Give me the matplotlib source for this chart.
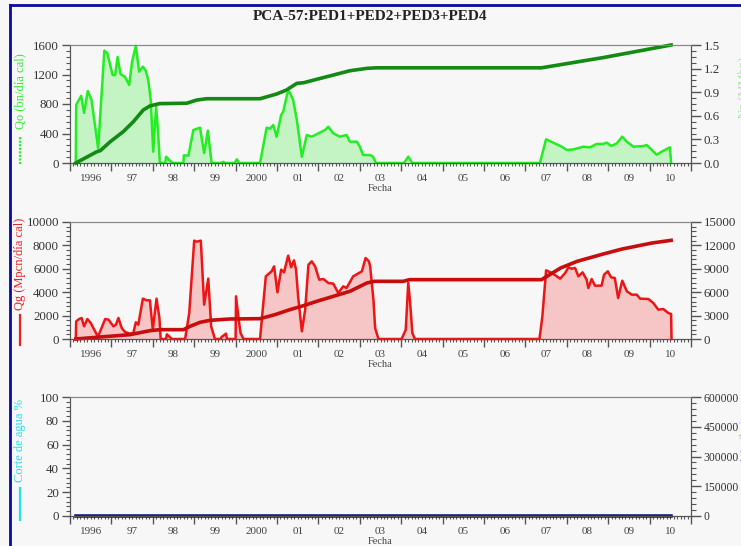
import numpy as np
import matplotlib
matplotlib.use('Agg')
import matplotlib.pyplot as plt
from matplotlib.lines import Line2D
from matplotlib.ticker import MultipleLocator

plt.rcParams['font.family'] = ['Liberation Serif', 'DejaVu Serif']

# fechas en años decimales (etiqueta de cada año centrada en su mitad)
year_labels = ['1996', '97', '98', '99', '2000', '01', '02', '03', '04',
               '05', '06', '07', '08', '09', '10']
year_pos = [1996.5 + i for i in range(len(year_labels))]

# tasa de petróleo Qo (bn/día cal)
t_qo = [1996.14, 1996.15, 1996.27, 1996.34, 1996.43, 1996.52, 1996.68, 1996.83,
        1996.90, 1997.03, 1997.09, 1997.15, 1997.22, 1997.33, 1997.43, 1997.50,
        1997.59, 1997.67, 1997.76, 1997.83, 1997.89, 1997.95, 1998.01, 1998.08,
        1998.13, 1998.17, 1998.30, 1998.32, 1998.40, 1998.48, 1998.74, 1998.75,
        1998.86, 1998.98, 1999.14, 1999.24, 1999.33, 1999.42, 1999.65, 1999.70,
        1999.75, 1999.98, 2000.03, 2000.08, 2000.59, 2000.75, 2000.83, 2000.91,
        2000.99, 2001.10, 2001.15, 2001.25, 2001.30, 2001.39, 2001.48, 2001.60,
        2001.72, 2001.84, 2002.00, 2002.16, 2002.24, 2002.36, 2002.52, 2002.68,
        2002.76, 2002.93, 2003.00, 2003.08, 2003.25, 2003.32, 2003.39, 2004.07,
        2004.17, 2004.27, 2007.35, 2007.50, 2007.67, 2007.88, 2008.00, 2008.16,
        2008.40, 2008.56, 2008.72, 2008.88, 2008.96, 2009.08, 2009.21, 2009.34,
        2009.45, 2009.61, 2009.85, 2009.93, 2010.17, 2010.29, 2010.49, 2010.52]
qo = [0, 790, 910, 680, 976, 855, 200, 1523,
      1490, 1193, 1193, 1437, 1206, 1166, 1058, 1374,
      1590, 1238, 1306, 1252, 1126, 855, 153, 763,
      400, 0, 0, 85, 40, 0, 0, 104,
      100, 447, 479, 135, 438, 0, 0, 15,
      0, 0, 50, 0, 0, 479, 465, 515,
      357, 651, 696, 945, 967, 855, 583, 85,
      380, 357, 402, 447, 492, 402, 357, 380,
      289, 289, 221, 108, 108, 85, 0, 0,
      85, 0, 0, 321, 276, 221, 176, 185,
      221, 212, 258, 258, 276, 231, 267, 357,
      289, 221, 230, 244, 113, 153, 212, 0]

# petróleo acumulado Np (MMbn)
t_np = [1996.14, 1996.65, 1996.73, 1996.97, 1997.29, 1997.53, 1997.77, 1997.93,
        1998.09, 1998.17, 1998.82, 1999.06, 1999.30, 2000.59, 2000.99, 2001.23,
        2001.48, 2001.64, 2001.96, 2002.36, 2002.76, 2003.17, 2003.39, 2007.39,
        2008.88, 2010.52]
np_cum = [0.0, 0.144, 0.156, 0.27, 0.40, 0.525, 0.674, 0.725,
          0.746, 0.755, 0.76, 0.80, 0.817, 0.817, 0.877, 0.928,
          1.013, 1.02, 1.064, 1.118, 1.173, 1.203, 1.21, 1.21,
          1.34, 1.50]

# tasa de gas Qg (Mpcn/día cal)
t_qg = [1996.14, 1996.15, 1996.22, 1996.28, 1996.34, 1996.42, 1996.50, 1996.65,
        1996.68, 1996.85, 1996.93, 1997.05, 1997.11, 1997.17, 1997.25, 1997.33,
        1997.45, 1997.53, 1997.59, 1997.65, 1997.76, 1997.85, 1997.93, 1998.00,
        1998.09, 1998.16, 1998.19, 1998.32, 1998.34, 1998.46, 1998.78, 1998.88,
        1999.00, 1999.06, 1999.16, 1999.24, 1999.34, 1999.41, 1999.50, 1999.64,
        1999.66, 1999.77, 1999.79, 2000.00, 2000.01, 2000.07, 2000.12, 2000.19,
        2000.59, 2000.73, 2000.87, 2000.93, 2001.01, 2001.10, 2001.17, 2001.27,
        2001.34, 2001.41, 2001.46, 2001.51, 2001.60, 2001.68, 2001.76, 2001.84,
        2001.92, 2002.02, 2002.12, 2002.24, 2002.36, 2002.48, 2002.60, 2002.68,
        2002.84, 2003.05, 2003.14, 2003.22, 2003.25, 2003.33, 2003.37, 2003.45,
        2004.01, 2004.11, 2004.17, 2004.21, 2004.27, 2004.33, 2007.34, 2007.41,
        2007.50, 2007.64, 2007.76, 2007.84, 2007.96, 2008.04, 2008.12, 2008.20,
        2008.28, 2008.38, 2008.48, 2008.52, 2008.60, 2008.68, 2008.84, 2008.90,
        2008.99, 2009.07, 2009.16, 2009.24, 2009.34, 2009.45, 2009.57, 2009.69,
        2009.77, 2009.97, 2010.09, 2010.21, 2010.33, 2010.45, 2010.52, 2010.53]
qg = [0, 1510, 1709, 1795, 1083, 1709, 1368, 370,
      228, 1709, 1652, 1083, 1225, 1795, 940, 598,
      456, 513, 1425, 1225, 3447, 3305, 3305, 798,
      3447, 1795, 0, 0, 400, 0, 0, 2222,
      8405, 8319, 8405, 2935, 5157, 1083, 0, 0,
      170, 456, 0, 0, 3647, 1795, 513, 0,
      0, 5356, 5783, 6211, 3989, 5926, 5698, 7123,
      6125, 6724, 5926, 3647, 655, 2507, 6353, 6638,
      6211, 5071, 5128, 4786, 4729, 3932, 4501, 4359,
      5356, 5783, 6923, 6638, 6211, 3362, 940, 0,
      0, 798, 4786, 3362, 513, 0, 0, 1937,
      5869, 5641, 5356, 5157, 5641, 6125, 6011, 6068,
      5356, 5698, 5071, 4359, 5128, 4558, 4558, 5499,
      5783, 5271, 5214, 3504, 4986, 4074, 3789, 3789,
      3447, 3419, 3077, 2507, 2564, 2222, 2137, 0]

# gas acumulado Gp
t_gp = [1996.14, 1996.73, 1997.45, 1997.93, 1998.17, 1998.74, 1998.90, 1999.14,
        1999.38, 1999.86, 2000.59, 2000.95, 2001.31, 2001.64, 2001.96, 2002.36,
        2002.76, 2003.17, 2003.35, 2004.05, 2004.20, 2007.39, 2007.85, 2008.25,
        2008.88, 2009.34, 2010.06, 2010.52]
gp = [0, 256, 556, 1068, 1197, 1197, 1624, 2137,
      2393, 2564, 2607, 3120, 3761, 4274, 4829, 5470,
      6112, 7180, 7394, 7394, 7608, 7608, 9104, 9958,
      10899, 11540, 12309, 12651]

# corte de agua (%)
t_wc = [1996.14, 2010.52]
wcut = [0, 0]

bg = '#f7f7f7'
fig = plt.figure(figsize=(7.41, 5.46), dpi=100, facecolor=bg)

W, H = 741., 546.
def box(x0, x1, ytop, ybot):
    return [x0 / W, 1 - ybot / H, (x1 - x0) / W, (ybot - ytop) / H]

panels = [box(70, 691, 45, 163), box(70, 691, 222, 339), box(70, 691, 397, 516)]


def style_axes(ax, ax2, rsize=9.3):
    ax.set_facecolor(bg)
    ax.set_xlim(1996, 2011)
    ax.xaxis.set_major_locator(MultipleLocator(1))
    ax.xaxis.set_minor_locator(MultipleLocator(1 / 12.))
    ax.tick_params(axis='x', which='major', length=6, width=1, color='#555555',
                   labelbottom=False)
    ax.tick_params(axis='x', which='minor', length=2.5, width=0.8, color='#555555')
    sec = ax.secondary_xaxis('bottom')
    sec.set_xticks(year_pos)
    sec.set_xticklabels(year_labels)
    sec.tick_params(length=0, pad=8, labelsize=8, labelcolor='#444444')
    sec.spines['bottom'].set_visible(False)
    ax.tick_params(axis='y', which='major', length=6, width=1, color='#555555',
                   labelsize=9.3, labelcolor='#333333', pad=2)
    ax.tick_params(axis='y', which='minor', length=3, width=0.8, color='#555555')
    ax2.tick_params(axis='y', which='major', length=7, width=1, color='#555555',
                    labelsize=rsize, labelcolor='#333333', pad=2)
    ax2.tick_params(axis='y', which='minor', length=3.5, width=0.8, color='#555555')
    for a in (ax, ax2):
        a.spines['top'].set_color('#888888')
        a.spines['left'].set_color('#555555')
        a.spines['right'].set_color('#555555')
        a.spines['bottom'].set_color('#555555')
    ax.set_xlabel('Fecha', fontsize=7.5, color='#444444', labelpad=9)


# panel de petróleo
ax = fig.add_axes(panels[0])
ax2 = ax.twinx()
ax.fill_between(t_qo, qo, 0, color='#c4f4c4', lw=0)
ax.plot(t_qo, qo, color='#22ee22', lw=1.8, clip_on=False)
ax2.plot(t_np, np_cum, color='#138a13', lw=2.6, clip_on=False)
ax.set_ylim(0, 1600)
ax.set_yticks([0, 400, 800, 1200, 1600])
ax.yaxis.set_minor_locator(MultipleLocator(80))
ax2.set_ylim(0, 1.5)
ax2.set_yticks([0.0, 0.3, 0.6, 0.9, 1.2, 1.5])
ax2.set_yticklabels(['0.0', '0.3', '0.6', '0.9', '1.2', '1.5'])
ax2.yaxis.set_minor_locator(MultipleLocator(0.075))
style_axes(ax, ax2)

# panel de gas
bx = fig.add_axes(panels[1])
bx2 = bx.twinx()
bx.fill_between(t_qg, qg, 0, color='#f6c6c6', lw=0)
bx.plot(t_qg, qg, color='#ee1515', lw=1.8, clip_on=False)
bx2.plot(t_gp, gp, color='#c80d0d', lw=2.6, clip_on=False)
bx.set_ylim(0, 10000)
bx.set_yticks([0, 2000, 4000, 6000, 8000, 10000])
bx.yaxis.set_minor_locator(MultipleLocator(400))
bx2.set_ylim(0, 15000)
bx2.set_yticks([0, 3000, 6000, 9000, 12000, 15000])
bx2.yaxis.set_minor_locator(MultipleLocator(600))
style_axes(bx, bx2)

# panel de agua
cx = fig.add_axes(panels[2])
cx2 = cx.twinx()
cx.plot(t_wc, wcut, color='#1a1a80', lw=2.6, clip_on=False)
cx.set_ylim(0, 100)
cx.set_yticks([0, 20, 40, 60, 80, 100])
cx.yaxis.set_minor_locator(MultipleLocator(4))
cx2.set_ylim(0, 600000)
cx2.set_yticks([0, 150000, 300000, 450000, 600000])
cx2.yaxis.set_minor_locator(MultipleLocator(30000))
style_axes(cx, cx2, rsize=8.4)

# rótulos verticales con muestra de línea
def side_label(text, color, ymid, y0, y1, ls, bold=False):
    fig.text(20 / W, 1 - ymid / H, text, rotation=90, ha='center', va='center',
             color=color, fontsize=9, fontweight='bold' if bold else 'normal')
    fig.add_artist(Line2D([20 / W, 20 / W], [1 - y0 / H, 1 - y1 / H],
                          color=color, lw=1.6, ls=ls))

side_label('Qo (bn/día cal)', '#33ee33', 91, 137, 165, (0, (1, 0.6)))
side_label('Qg (Mpcn/día cal)', '#ee2020', 264, 315, 345, '-')
side_label('Corte de agua %', '#22e0ee', 441, 488, 520, '-')

# rótulos del eje derecho (quedan en el borde)
fig.text(738.5 / W, 1 - 88 / H, 'Np (MMbn)', rotation=90, ha='left', va='center',
         color='#a8e8a8', fontsize=9)
fig.text(739.5 / W, 1 - 440 / H, 'Wp (bn)', rotation=90, ha='left', va='center',
         color='#b0b0ee', fontsize=9)

fig.text(0.5, 1 - 17 / H, 'PCA-57:PED1+PED2+PED3+PED4', ha='center', va='center',
         fontsize=11, fontweight='bold', color='#222222')

# marco azul
fig.add_artist(Line2D([10 / W, 10 / W], [0, 1 - 5 / H], color='#0a0aa0', lw=2))
fig.add_artist(Line2D([10 / W, 1], [1 - 5 / H, 1 - 5 / H], color='#0a0aa0', lw=2))

fig.savefig('out.png', dpi=100, facecolor=bg)
